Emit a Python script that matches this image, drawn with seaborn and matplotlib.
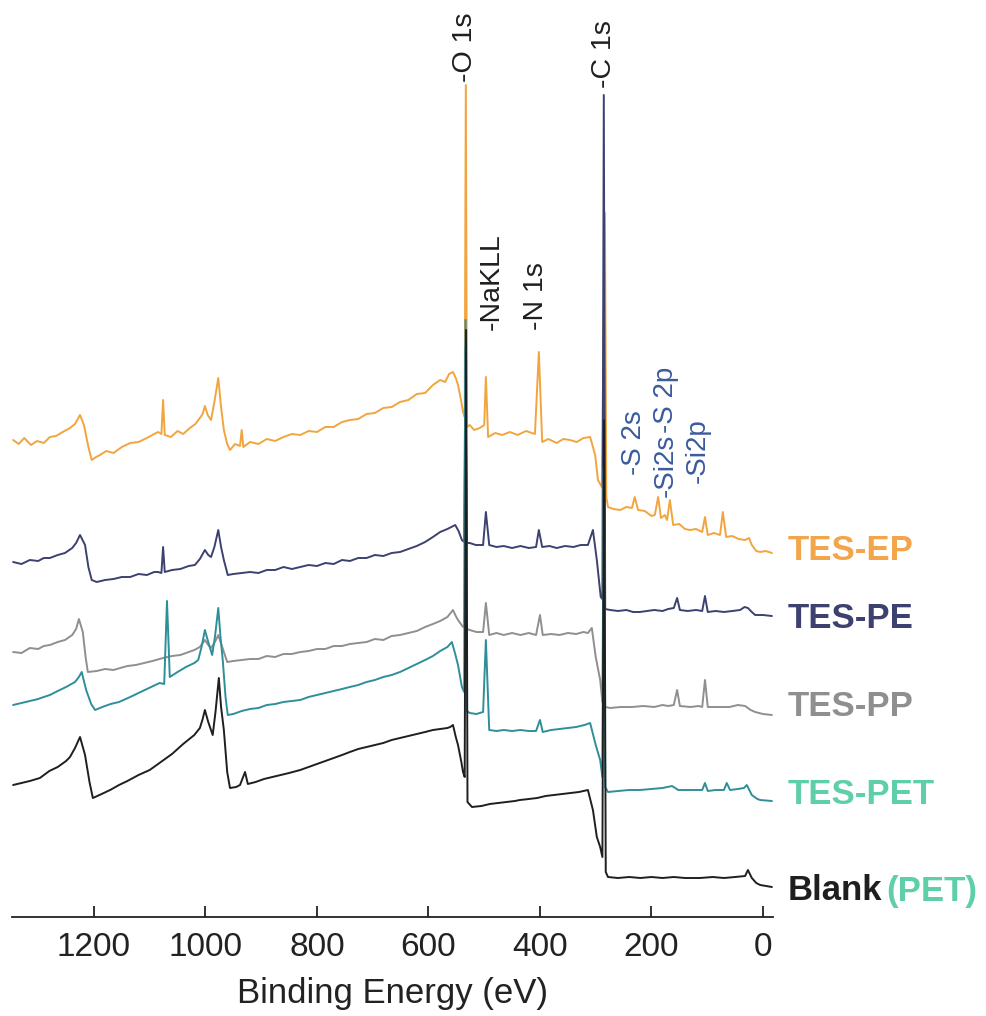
import matplotlib
matplotlib.use("Agg")
import matplotlib.pyplot as plt
import seaborn as sns
import pandas as pd

# XPS survey spectra, binding energy (eV) vs. offset intensity (a.u.)
samples = ["TES-EP", "TES-PE", "TES-PP", "TES-PET", "Blank"]

ep_be = [1345, 1335, 1325, 1313, 1302, 1290, 1279, 1268, 1256, 1243, 1234, 1225, 1218, 1210, 1204,
         1196, 1189, 1178, 1165, 1150, 1135, 1120, 1105, 1092, 1085, 1079, 1076, 1073, 1062, 1050,
         1040, 1028, 1018, 1010, 1005, 1001, 996, 990, 984, 977, 972, 967, 961, 956, 947, 938, 935,
         932, 920, 905, 890, 875, 860, 845, 830, 815, 800, 785, 770, 755, 741, 726, 711, 696, 681,
         666, 651, 636, 621, 606, 592, 579, 570, 563, 556, 551, 547, 542, 538, 535, 533, 531, 526,
         518, 508, 500, 497, 493, 480, 468, 454, 440, 425, 409, 402, 396, 385, 370, 358, 346, 334,
         322, 310, 301, 296, 289, 283.5, 281, 278, 268, 256, 245, 235, 230, 224, 212, 200, 194, 188,
         183, 176, 172, 167, 161, 150, 140, 131, 120, 109, 104, 99, 88, 77, 72, 66, 55, 44, 32, 25,
         20, 12, 5, -5, -16]
ep_int = [47.7, 47.3, 47.9, 47.2, 47.6, 47.4, 48.0, 48.1, 48.5, 48.9, 49.3, 50.2, 49.2, 47.0, 45.7,
          46.0, 46.2, 46.6, 46.4, 47.0, 47.4, 47.5, 47.9, 48.3, 48.5, 48.3, 51.7, 48.2, 48.0, 48.6,
          48.3, 48.9, 49.3, 49.9, 50.3, 51.1, 50.2, 49.7, 51.5, 53.9, 51.0, 48.7, 47.3, 46.7, 47.3,
          47.1, 48.7, 47.0, 47.5, 47.3, 47.8, 47.6, 48.0, 48.3, 48.2, 48.6, 48.5, 49.0, 49.0, 49.5,
          49.7, 49.8, 50.3, 50.4, 50.9, 51.0, 51.5, 51.7, 52.3, 52.4, 53.2, 53.7, 53.5, 54.3, 54.5,
          53.9, 53.2, 51.8, 50.5, 50.0, 83.2, 49.0, 49.2, 48.7, 48.9, 49.2, 54.0, 48.0, 48.4, 48.2,
          48.5, 48.2, 48.6, 48.3, 56.5, 47.5, 47.8, 47.4, 47.8, 47.7, 47.5, 47.9, 48.0, 46.2, 43.7,
          43.0, 70.4, 42.0, 41.0, 40.8, 40.7, 41.0, 40.9, 42.0, 40.7, 40.6, 40.1, 40.2, 42.0, 39.9,
          40.2, 39.7, 41.7, 39.2, 39.3, 38.8, 38.7, 38.8, 38.5, 40.0, 38.2, 38.4, 38.2, 40.5, 38.0,
          38.1, 37.8, 37.7, 37.9, 37.2, 36.6, 36.5, 36.6, 36.4]

pe_be = [1345, 1330, 1315, 1300, 1290, 1279, 1265, 1252, 1239, 1232, 1225, 1216, 1210, 1204, 1195,
         1180, 1165, 1150, 1135, 1120, 1105, 1092, 1085, 1079, 1076, 1073, 1060, 1045, 1030, 1019,
         1010, 1005, 1001, 995, 990, 984, 977, 972, 967, 960, 950, 935, 920, 905, 890, 875, 860, 845,
         830, 815, 800, 785, 770, 755, 741, 726, 711, 696, 681, 666, 651, 636, 621, 606, 592, 579,
         566, 552, 546, 540, 536, 533.5, 531, 526, 515, 502, 497, 491, 478, 465, 450, 435, 420, 407,
         402, 396, 383, 370, 355, 340, 327, 314, 305, 298, 291, 288, 285.5, 283, 274, 260, 245, 233,
         221, 208, 195, 180, 170, 160, 154, 149, 135, 120, 109, 104, 99, 85, 70, 55, 41, 33, 27, 20,
         14, 0, -16]
pe_int = [35.5, 35.3, 35.7, 35.6, 35.9, 35.9, 36.2, 36.4, 36.9, 37.4, 38.2, 37.2, 35.0, 33.7, 33.5,
          33.7, 33.8, 34.0, 34.0, 34.3, 34.2, 34.5, 34.5, 34.4, 37.0, 34.5, 34.7, 34.8, 35.1, 35.2,
          35.8, 36.3, 36.7, 36.2, 36.0, 37.0, 38.7, 37.0, 35.7, 34.2, 34.3, 34.4, 34.5, 34.4, 34.7,
          34.7, 35.0, 34.8, 35.0, 35.2, 35.1, 35.4, 35.3, 35.7, 35.6, 35.9, 35.9, 36.2, 36.1, 36.4,
          36.5, 36.8, 37.1, 37.5, 38.0, 38.5, 38.8, 39.2, 38.6, 37.7, 37.5, 57.0, 37.4, 37.4, 37.2,
          37.2, 40.5, 37.2, 37.0, 37.1, 36.9, 37.1, 36.9, 37.0, 38.7, 37.0, 37.1, 36.9, 37.1, 37.0,
          37.2, 37.2, 38.7, 35.7, 32.0, 31.8, 82.2, 30.8, 30.7, 30.6, 30.7, 30.5, 30.5, 30.6, 30.7,
          30.6, 30.8, 30.9, 31.9, 30.7, 30.6, 30.7, 30.6, 32.1, 30.5, 30.6, 30.5, 30.6, 30.7, 31.0,
          30.9, 30.5, 30.2, 30.2, 30.1]

pp_be = [1345, 1330, 1315, 1300, 1290, 1279, 1265, 1252, 1239, 1232, 1227, 1220, 1215, 1211, 1195,
         1180, 1165, 1153, 1140, 1125, 1110, 1095, 1076, 1060, 1045, 1030, 1020, 1010, 1001, 995, 990,
         983, 977, 970, 961, 950, 935, 920, 905, 890, 875, 860, 845, 830, 815, 800, 785, 770, 755,
         741, 726, 711, 696, 681, 666, 651, 636, 621, 606, 592, 579, 566, 556, 551, 547, 538, 536,
         533.5, 531, 526, 514, 502, 497, 491, 478, 465, 450, 435, 420, 407, 400, 395, 380, 365, 350,
         335, 322, 314, 307, 300, 292, 288, 285.5, 283, 274, 255, 235, 215, 195, 180, 170, 160, 154,
         149, 130, 115, 109, 104, 99, 80, 60, 45, 32, 22, 14, 0, -16]
pp_int = [26.5, 26.4, 26.9, 26.8, 27.1, 27.2, 27.5, 27.7, 28.2, 28.8, 29.8, 28.5, 26.0, 24.5, 24.6,
          24.8, 24.7, 24.9, 25.1, 25.2, 25.4, 25.6, 25.9, 26.1, 26.2, 26.5, 26.7, 27.0, 27.7, 27.2,
          26.9, 27.5, 28.2, 27.0, 25.5, 25.6, 25.7, 25.8, 25.8, 26.1, 26.0, 26.3, 26.3, 26.5, 26.6,
          26.8, 26.8, 27.1, 27.1, 27.3, 27.4, 27.5, 27.8, 27.7, 28.1, 28.2, 28.4, 28.6, 29.0, 29.3,
          29.6, 30.0, 30.7, 30.1, 29.7, 29.0, 29.0, 57.5, 28.8, 28.7, 28.5, 28.5, 31.4, 28.2, 28.4,
          28.2, 28.4, 28.2, 28.4, 28.2, 30.2, 28.2, 28.3, 28.2, 28.4, 28.3, 28.5, 28.4, 28.9, 26.0,
          23.7, 21.5, 45.0, 21.0, 20.9, 21.0, 21.0, 21.1, 21.0, 21.2, 21.1, 21.2, 22.7, 21.1, 21.0,
          21.1, 21.0, 23.7, 21.0, 21.0, 21.0, 21.2, 21.1, 20.7, 20.5, 20.3, 20.2]

pet_be = [1345, 1330, 1315, 1300, 1290, 1279, 1265, 1250, 1234, 1227, 1222, 1214, 1205, 1198, 1185,
          1170, 1155, 1135, 1120, 1105, 1090, 1082, 1074, 1069, 1064, 1050, 1035, 1020, 1013, 1007,
          1001, 995, 988, 983, 977, 973, 969, 964, 960, 950, 935, 920, 905, 890, 875, 860, 845, 830,
          815, 800, 785, 770, 755, 741, 726, 711, 696, 681, 666, 651, 636, 621, 606, 592, 579, 566,
          558, 552, 547, 540, 536, 533.5, 531, 526, 514, 502, 497, 491, 478, 465, 450, 435, 420, 407,
          400, 395, 380, 365, 350, 335, 320, 310, 300, 292, 288, 285.5, 283, 278, 260, 240, 221, 200,
          180, 163, 152, 130, 109, 104, 99, 85, 70, 65, 59, 45, 34, 29, 20, 10, 5, -16]
pet_int = [21.2, 21.4, 21.6, 21.8, 22.0, 22.2, 22.6, 23.0, 23.5, 24.0, 24.5, 22.7, 21.3, 20.7, 21.0,
           21.3, 21.5, 22.0, 22.4, 22.8, 23.2, 23.4, 23.3, 31.6, 24.0, 24.5, 25.0, 25.4, 25.7, 27.0,
           28.7, 27.5, 26.2, 28.0, 30.9, 28.0, 25.7, 22.0, 20.2, 20.3, 20.6, 20.8, 20.9, 21.2, 21.3,
           21.5, 21.6, 21.7, 22.0, 22.2, 22.4, 22.6, 22.8, 23.0, 23.2, 23.5, 23.7, 24.0, 24.2, 24.5,
           24.9, 25.3, 25.7, 26.1, 26.6, 27.0, 27.5, 26.3, 25.2, 23.0, 22.5, 59.7, 20.6, 20.4, 20.3,
           20.5, 27.7, 18.7, 18.6, 18.7, 18.6, 18.7, 18.6, 18.6, 19.7, 18.5, 18.7, 18.8, 18.9, 19.0,
           19.2, 19.4, 17.2, 15.7, 14.0, 45.0, 13.0, 12.5, 12.6, 12.7, 12.7, 12.8, 12.9, 13.1, 12.7,
           12.7, 12.7, 13.4, 12.6, 12.7, 12.7, 13.4, 12.7, 12.8, 12.9, 13.2, 12.2, 11.8, 11.7, 11.6]

blank_be = [1345, 1330, 1315, 1297, 1280, 1265, 1250, 1243, 1234, 1225, 1216, 1208, 1202, 1190, 1171,
            1155, 1140, 1120, 1100, 1080, 1060, 1040, 1020, 1010, 1005, 1001, 995, 987, 982, 976, 972,
            967, 961, 956, 945, 938, 929, 924, 910, 895, 880, 865, 850, 830, 815, 800, 785, 770, 755,
            741, 726, 711, 696, 681, 666, 651, 636, 621, 606, 592, 579, 566, 561, 556, 551, 547, 541,
            538, 535, 532.5, 530, 522, 505, 490, 475, 460, 445, 436, 420, 405, 390, 375, 360, 345, 330,
            314, 305, 298, 292, 288, 285, 282, 278, 260, 240, 220, 200, 180, 160, 140, 113, 90, 70, 50,
            32, 27, 20, 12, 5, -16]
blank_int = [13.2, 13.4, 13.6, 13.9, 14.6, 15.0, 15.6, 16.0, 16.9, 18.0, 16.2, 13.5, 11.9, 12.2, 12.7,
             13.2, 13.6, 14.2, 14.7, 15.5, 16.3, 17.3, 18.2, 18.9, 19.8, 20.7, 19.5, 18.2, 20.5, 23.9,
             21.0, 18.7, 14.5, 12.9, 13.0, 13.2, 14.5, 13.3, 13.5, 13.8, 14.0, 14.2, 14.4, 14.7, 15.0,
             15.3, 15.6, 15.9, 16.2, 16.5, 16.8, 17.0, 17.2, 17.4, 17.7, 17.9, 18.1, 18.3, 18.5, 18.7,
             18.8, 18.9, 19.0, 19.2, 18.0, 17.2, 15.5, 14.5, 14.0, 58.7, 11.5, 11.0, 11.1, 11.3, 11.4,
             11.5, 11.6, 11.7, 11.8, 11.9, 12.1, 12.2, 12.3, 12.4, 12.5, 12.7, 10.7, 8.0, 7.0, 6.0,
             49.7, 4.5, 4.0, 3.9, 4.0, 3.9, 4.0, 3.9, 4.0, 3.9, 3.9, 4.0, 3.9, 4.0, 4.1, 4.7, 3.9, 3.4,
             3.2, 3.0]

line_colors = ["#f2a53e", "#3c4170", "#8f8f8f", "#2e8f98", "#1f1f1f"]
label_colors = ["#f2a54a", "#3c4170", "#8f8f8f", "#5fcfa8", "#1f1f1f"]

peak_names = ["-O 1s", "-C 1s", "-NaKLL", "-N 1s"]
peak_be = [534.5, 285, 486, 407]
peak_int = [83.5, 82.9, 58.7, 58.7]

trace_names = ["-S 2s", "-Si2s", "-S 2p", "-Si2p"]
trace_be = [231, 174, 174, 117]
trace_int = [44.2, 42.0, 48.4, 43.4]

xticks = [1200, 1000, 800, 600, 400, 200, 0]

sns.set_theme(style="white")
plt.rcParams["font.family"] = ["Liberation Sans", "Noto Sans CJK SC", "DejaVu Sans"]

frames = []
for name, be, inten in zip(samples,
                           [ep_be, pe_be, pp_be, pet_be, blank_be],
                           [ep_int, pe_int, pp_int, pet_int, blank_int]):
    frames.append(pd.DataFrame({"be": be, "intensity": inten, "sample": name}))
df = pd.concat(frames, ignore_index=True)

fig = plt.figure(figsize=(9.86, 10.16), dpi=100)
ax = fig.add_axes([12 / 986, 1 - 917 / 1016, (773 - 12) / 986, 917 / 1016])

sns.lineplot(data=df, x="be", y="intensity", hue="sample", hue_order=samples,
             palette=dict(zip(samples, line_colors)), estimator=None, sort=False,
             linewidth=1.4, legend=False, ax=ax)

ax.set_xlim(1347, -18)
ax.set_ylim(0, 91.7)
ax.set_xticks(xticks)
ax.set_xticklabels([str(t) for t in xticks])
ax.set_yticks([])
ax.set_ylabel("")
ax.set_xlabel("Binding Energy (eV)", fontsize=25, color="#222222", labelpad=10)
ax.tick_params(axis="x", direction="in", length=8, width=1.3, color="#222222",
               labelsize=24, labelcolor="#222222", pad=11, bottom=True)
for side in ["left", "top", "right"]:
    ax.spines[side].set_visible(False)
ax.spines["bottom"].set_color("#222222")
ax.spines["bottom"].set_linewidth(1.3)

# sample names at the right end of each spectrum
end_int = [36.7, 29.8, 21.0, 12.2, 2.6]
for name, col, yv in zip(samples, label_colors, end_int):
    t = ax.text(-45, yv, name, color=col, fontsize=25, fontweight="bold",
                ha="left", va="center", clip_on=False)
    if name == "Blank":
        ax.annotate("(PET)", xy=(1, 0.5), xycoords=t, xytext=(3, 0),
                    textcoords="offset points", color=label_colors[3],
                    fontsize=25, fontweight="bold", ha="left", va="center",
                    annotation_clip=False)

for txt, x, y in zip(peak_names, peak_be, peak_int):
    ax.text(x, y, txt, rotation=90, ha="center", va="bottom", fontsize=20.5,
            color="#1f1f1f", clip_on=False)
for txt, x, y in zip(trace_names, trace_be, trace_int):
    ax.text(x, y, txt, rotation=90, ha="center", va="bottom", fontsize=20,
            color="#3b5b9e", clip_on=False)

fig.savefig("out.png", dpi=100)
